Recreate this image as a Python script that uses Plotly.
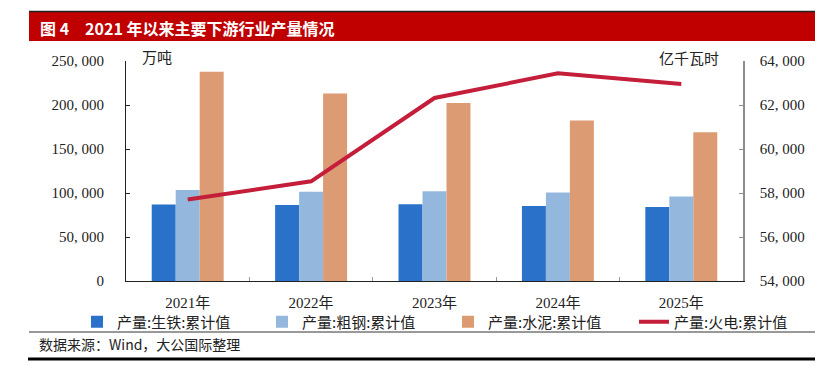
import plotly.graph_objects as go

# ---- data ----
years = ["2021年", "2022年", "2023年", "2024年", "2025年"]
pig_iron = [86857, 86383, 87101, 85174, 84000]        # 万吨
crude_steel = [103524, 101300, 101908, 100509, 96100]  # 万吨
cement = [237700, 212927, 202300, 182500, 169100]      # 万吨
thermal = [57703, 58531, 62318, 63438, 62950]          # 亿千瓦时

left_ticks = [0, 50000, 100000, 150000, 200000, 250000]
left_ticktext = ["0", "50, 000", "100, 000", "150, 000", "200, 000", "250, 000"]
right_ticks = [54000, 56000, 58000, 60000, 62000, 64000]
right_ticktext = ["54, 000", "56, 000", "58, 000", "60, 000", "62, 000", "64, 000"]

names = ["产量:生铁:累计值", "产量:粗钢:累计值", "产量:水泥:累计值", "产量:火电:累计值"]
colors = ["#2A71C9", "#94B8DD", "#DC9B72", "#C41E3A"]

SERIF = "Liberation Serif, Noto Sans CJK SC"
CJK = "Noto Sans CJK SC"

# page body has an 8px margin; plot area on screen: x 126..743, y 61..281
OFF = 8
W, H = 830, 375
L, R, T, B = 126, 743, 61, 281
def px(x):
    return (x - L) / (R - L)
def py(y):
    return (B - y) / (B - T)

legend_ids = ["legend", "legend2", "legend3", "legend4"]
legend_text_x = [119, 304, 490, 676]

fig = go.Figure()
for vals, nm, c, lg in zip([pig_iron, crude_steel, cement], names[:3], colors[:3], legend_ids[:3]):
    fig.add_trace(go.Bar(x=years, y=vals, name=nm, marker=dict(color=c, line=dict(width=0)),
                         yaxis="y", legend=lg))
fig.add_trace(go.Scatter(x=years, y=thermal, name=names[3], mode="lines",
                         line=dict(color=colors[3], width=4), yaxis="y2", legend=legend_ids[3]))

legend_common = dict(orientation="h", xanchor="left", yanchor="middle", y=py(322),
                     font=dict(family=CJK, size=15, color="#222222"),
                     bgcolor="rgba(0,0,0,0)", itemclick=False, borderwidth=0,
                     tracegroupgap=0)

fig.update_layout(
    width=W, height=H,
    margin=dict(l=L - OFF, r=W - R + OFF, t=T - OFF, b=H - B + OFF, autoexpand=False),
    paper_bgcolor="white", plot_bgcolor="white",
    barmode="group", bargap=0.417, bargroupgap=0,
    font=dict(family=SERIF, size=15, color="#222222"),
    showlegend=True,
    xaxis=dict(type="category", showline=True, linecolor="#222222", linewidth=1,
               ticks="inside", ticklen=4, tickcolor="#999999", tickson="boundaries",
               tickfont=dict(family=SERIF, size=15, color="#222222"),
               showgrid=False, zeroline=False, ticklabelstandoff=8),
    yaxis=dict(range=[0, 250000], tickvals=left_ticks, ticktext=left_ticktext,
               showline=True, linecolor="#222222", linewidth=1,
               ticks="inside", ticklen=4, tickcolor="#222222",
               tickfont=dict(family=SERIF, size=15, color="#222222"),
               showgrid=False, zeroline=False, ticklabelstandoff=18),
    yaxis2=dict(range=[54000, 64000], tickvals=right_ticks, ticktext=right_ticktext,
                overlaying="y", side="right",
                showline=True, linecolor="#8C8C8C", linewidth=1.5,
                ticks="inside", ticklen=4, tickcolor="#8C8C8C",
                tickfont=dict(family=SERIF, size=15, color="#222222"),
                showgrid=False, zeroline=False, ticklabelstandoff=12),
)
for lg, tx in zip(legend_ids, legend_text_x):
    fig.update_layout({lg: dict(legend_common, x=px(tx - 42))})

shapes = [
    dict(type="rect", xref="paper", yref="paper", x0=px(29), x1=px(815), y0=py(41), y1=py(12),
         fillcolor="#C00000", line=dict(width=0), layer="above"),
    dict(type="line", xref="paper", yref="paper", x0=px(29), x1=px(815), y0=py(11.5), y1=py(11.5),
         line=dict(color="#222222", width=1.5)),
    dict(type="line", xref="paper", yref="paper", x0=px(29), x1=px(815), y0=py(332), y1=py(332),
         line=dict(color="#333333", width=1)),
    dict(type="line", xref="paper", yref="paper", x0=px(28), x1=px(815), y0=py(359), y1=py(359),
         line=dict(color="#000000", width=3)),
]
fig.update_layout(shapes=shapes)

annotations = [
    dict(text="<b>图 4　2021 年以来主要下游行业产量情况</b>", x=px(38), y=py(28), xref="paper", yref="paper",
         xanchor="left", yanchor="middle", showarrow=False,
         font=dict(family=CJK, size=16, color="white")),
    dict(text="万吨", x=px(140), y=py(56), xref="paper", yref="paper", xanchor="left",
         yanchor="middle", showarrow=False, font=dict(family=CJK, size=15, color="#222222")),
    dict(text="亿千瓦时", x=px(721), y=py(57), xref="paper", yref="paper", xanchor="right",
         yanchor="middle", showarrow=False, font=dict(family=CJK, size=15, color="#222222")),
    dict(text="数据来源：Wind，大公国际整理", x=px(37), y=py(344), xref="paper", yref="paper",
         xanchor="left", yanchor="middle", showarrow=False,
         font=dict(family=CJK, size=14, color="#222222")),
]
fig.update_layout(annotations=annotations)

fig.write_html("out.html")
